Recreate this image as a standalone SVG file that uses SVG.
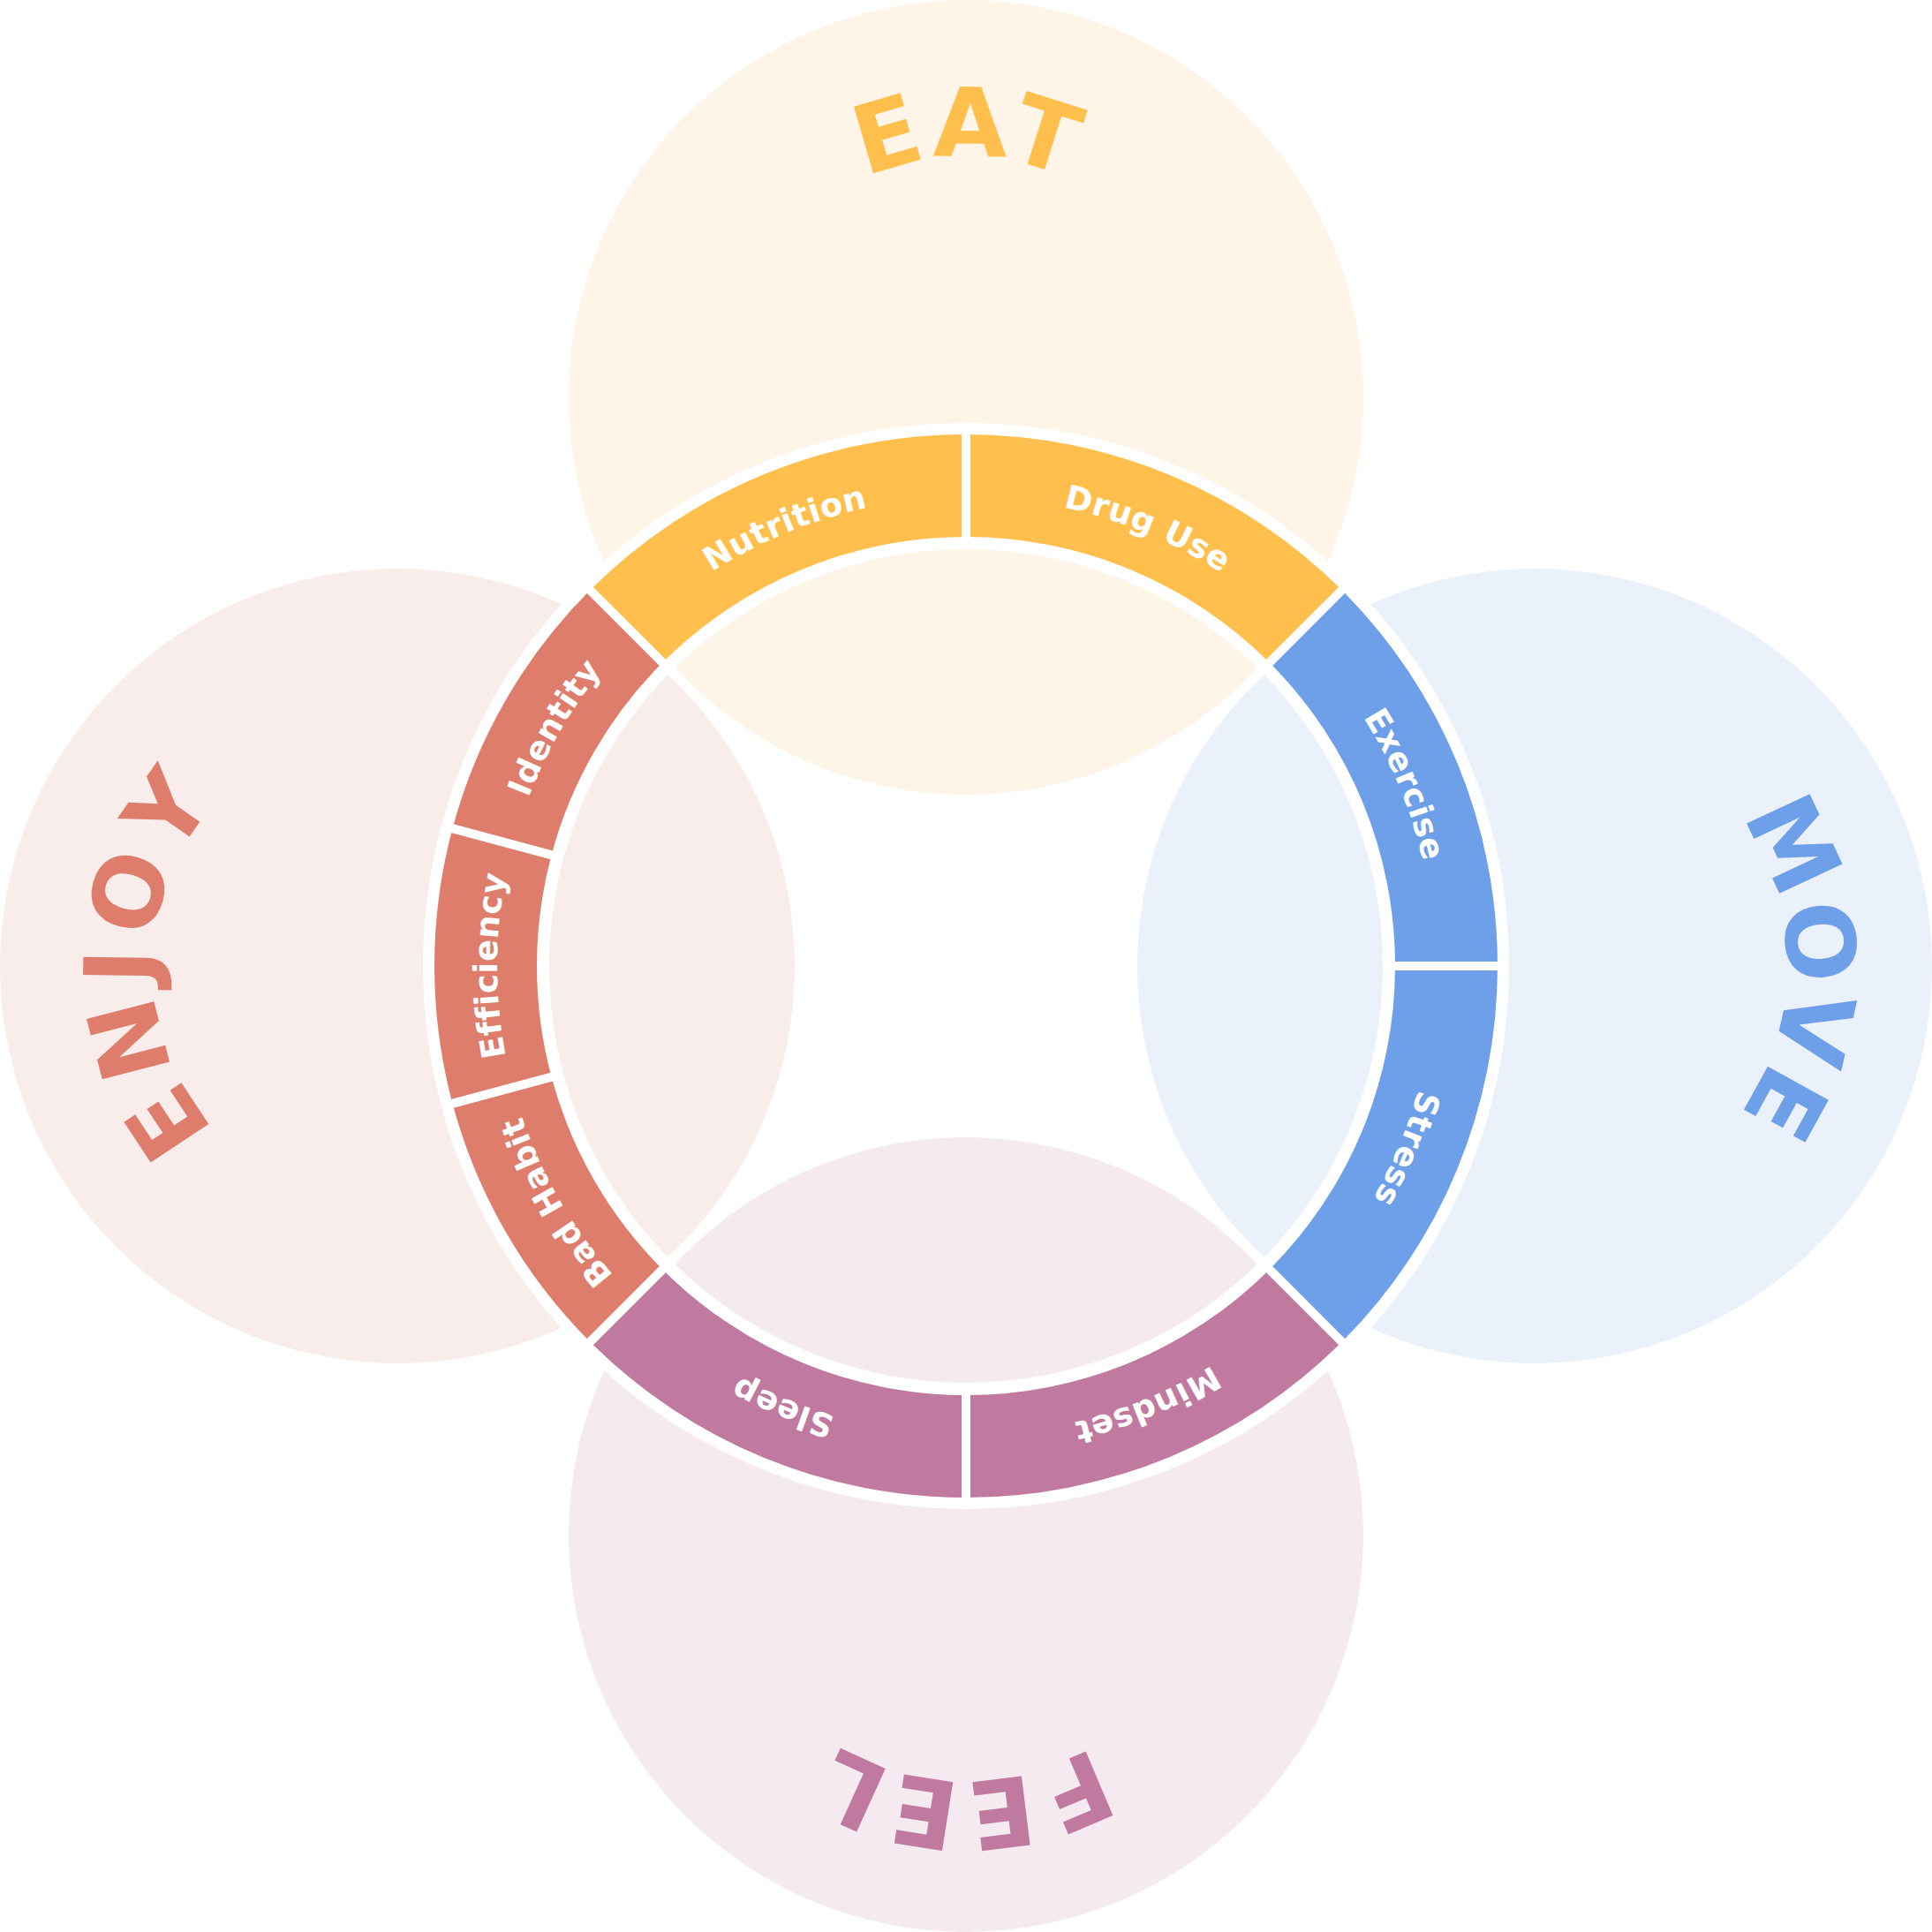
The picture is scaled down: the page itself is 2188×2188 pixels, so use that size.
<svg xmlns="http://www.w3.org/2000/svg" xmlns:xlink="http://www.w3.org/1999/xlink" width="2188" height="2188" viewBox="0 0 2188 2188">
<style>
.big{font-family:"DejaVu Sans","Open Sans","Liberation Sans",sans-serif;font-weight:700;font-size:108px;letter-spacing:6px;text-anchor:middle}
.seg{font-family:"DejaVu Sans","Open Sans","Liberation Sans",sans-serif;font-weight:700;font-size:37px;letter-spacing:0.5px;text-anchor:middle;fill:#FFFFFF}
.sep{stroke:#FFFFFF;stroke-width:10;fill:none}
</style>
<defs>
<path id="pEAT" d="M821,450 A273,273 0 0 1 1367,450"/>
<path id="pMOVE" d="M1738,808 A286,286 0 0 1 1738,1380"/>
<path id="pFEEL" d="M1373,1738 A279,279 0 0 1 815,1738"/>
<path id="pENJOY" d="M450,1371 A277,277 0 0 1 450,817"/>
<path id="ring" d="M1094,563 A531,531 0 1 1 1094,1625 A531,531 0 1 1 1094,563"/>
</defs>
<rect width="2188" height="2188" fill="#FFFFFF"/>
<g id="eat">
<circle cx="1094" cy="450" r="450" fill="#FFF4E8"/>
<text class="big" fill="#FFBF4C"><textPath xlink:href="#pEAT" startOffset="431.8">EAT</textPath></text>
</g>
<g id="move">
<circle cx="1738" cy="1094" r="450" fill="#EBF1FB"/>
<text class="big" fill="#6E9FE9" style="letter-spacing:2px"><textPath xlink:href="#pMOVE" startOffset="450.3">MOVE</textPath></text>
</g>
<g id="feel">
<circle cx="1094" cy="1738" r="450" fill="#F5EAF0"/>
<text class="big" fill="#C07A9F" style="letter-spacing:4px"><textPath xlink:href="#pFEEL" startOffset="440.3">FEEL</textPath></text>
</g>
<g id="enjoy">
<circle cx="450" cy="1094" r="450" fill="#F8EDEB"/>
<text class="big" fill="#DE7D6B" style="letter-spacing:9px"><textPath xlink:href="#pENJOY" startOffset="439.6">ENJOY</textPath></text>
</g>
<circle id="ring-band" cx="1094" cy="1094" r="543.5" fill="none" stroke="#FFFFFF" stroke-width="143"/>
<g id="nutrition">
<path d="M668.32,668.32 A602,602 0 0 1 1094,492 L1094,608 A486,486 0 0 0 750.35,750.35 Z" fill="#FFBF4C"/>
<text class="seg"><textPath xlink:href="#ring" startOffset="3128.1">Nutrition</textPath></text>
</g>
<g id="drug-use">
<path d="M1094,492 A602,602 0 0 1 1519.68,668.32 L1437.65,750.35 A486,486 0 0 0 1094,608 Z" fill="#FFBF4C"/>
<text class="seg"><textPath xlink:href="#ring" startOffset="208.8">Drug Use</textPath></text>
</g>
<g id="exercise">
<path d="M1519.68,668.32 A602,602 0 0 1 1696,1094 L1580,1094 A486,486 0 0 0 1437.65,750.35 Z" fill="#6E9FE9"/>
<text class="seg"><textPath xlink:href="#ring" startOffset="625.9">Exercise</textPath></text>
</g>
<g id="stress">
<path d="M1696,1094 A602,602 0 0 1 1519.68,1519.68 L1437.65,1437.65 A486,486 0 0 0 1580,1094 Z" fill="#6E9FE9"/>
<text class="seg"><textPath xlink:href="#ring" startOffset="1042.9">Stress</textPath></text>
</g>
<g id="mindset">
<path d="M1519.68,1519.68 A602,602 0 0 1 1094,1696 L1094,1580 A486,486 0 0 0 1437.65,1437.65 Z" fill="#C07A9F"/>
<text class="seg"><textPath xlink:href="#ring" startOffset="1460">Mindset</textPath></text>
</g>
<g id="sleep">
<path d="M1094,1696 A602,602 0 0 1 668.32,1519.68 L750.35,1437.65 A486,486 0 0 0 1094,1580 Z" fill="#C07A9F"/>
<text class="seg"><textPath xlink:href="#ring" startOffset="1877">Sleep</textPath></text>
</g>
<g id="bad-habit">
<path d="M668.32,1519.68 A602,602 0 0 1 512.51,1249.81 L624.56,1219.79 A486,486 0 0 0 750.35,1437.65 Z" fill="#DE7D6B"/>
<text class="seg"><textPath xlink:href="#ring" startOffset="2224.5">Bad Habit</textPath></text>
</g>
<g id="efficiency">
<path d="M512.51,1249.81 A602,602 0 0 1 512.51,938.19 L624.56,968.21 A486,486 0 0 0 624.56,1219.79 Z" fill="#DE7D6B"/>
<text class="seg"><textPath xlink:href="#ring" startOffset="2502.6">Efficiency</textPath></text>
</g>
<g id="identity">
<path d="M512.51,938.19 A602,602 0 0 1 668.32,668.32 L750.35,750.35 A486,486 0 0 0 624.56,968.21 Z" fill="#DE7D6B"/>
<text class="seg"><textPath xlink:href="#ring" startOffset="2780.6">Identity</textPath></text>
</g>
<g id="connectors">
<line class="sep" x1="754.6" y1="754.6" x2="662.7" y2="662.7"/>
<line class="sep" x1="1094" y1="614" x2="1094" y2="484"/>
<line class="sep" x1="1433.4" y1="754.6" x2="1525.3" y2="662.7"/>
<line class="sep" x1="1574" y1="1094" x2="1704" y2="1094"/>
<line class="sep" x1="1433.4" y1="1433.4" x2="1525.3" y2="1525.3"/>
<line class="sep" x1="1094" y1="1574" x2="1094" y2="1704"/>
<line class="sep" x1="754.6" y1="1433.4" x2="662.7" y2="1525.3"/>
<line class="sep" x1="630.4" y1="1218.2" x2="504.8" y2="1251.9"/>
<line class="sep" x1="630.4" y1="969.8" x2="504.8" y2="936.1"/>
</g>
</svg>
